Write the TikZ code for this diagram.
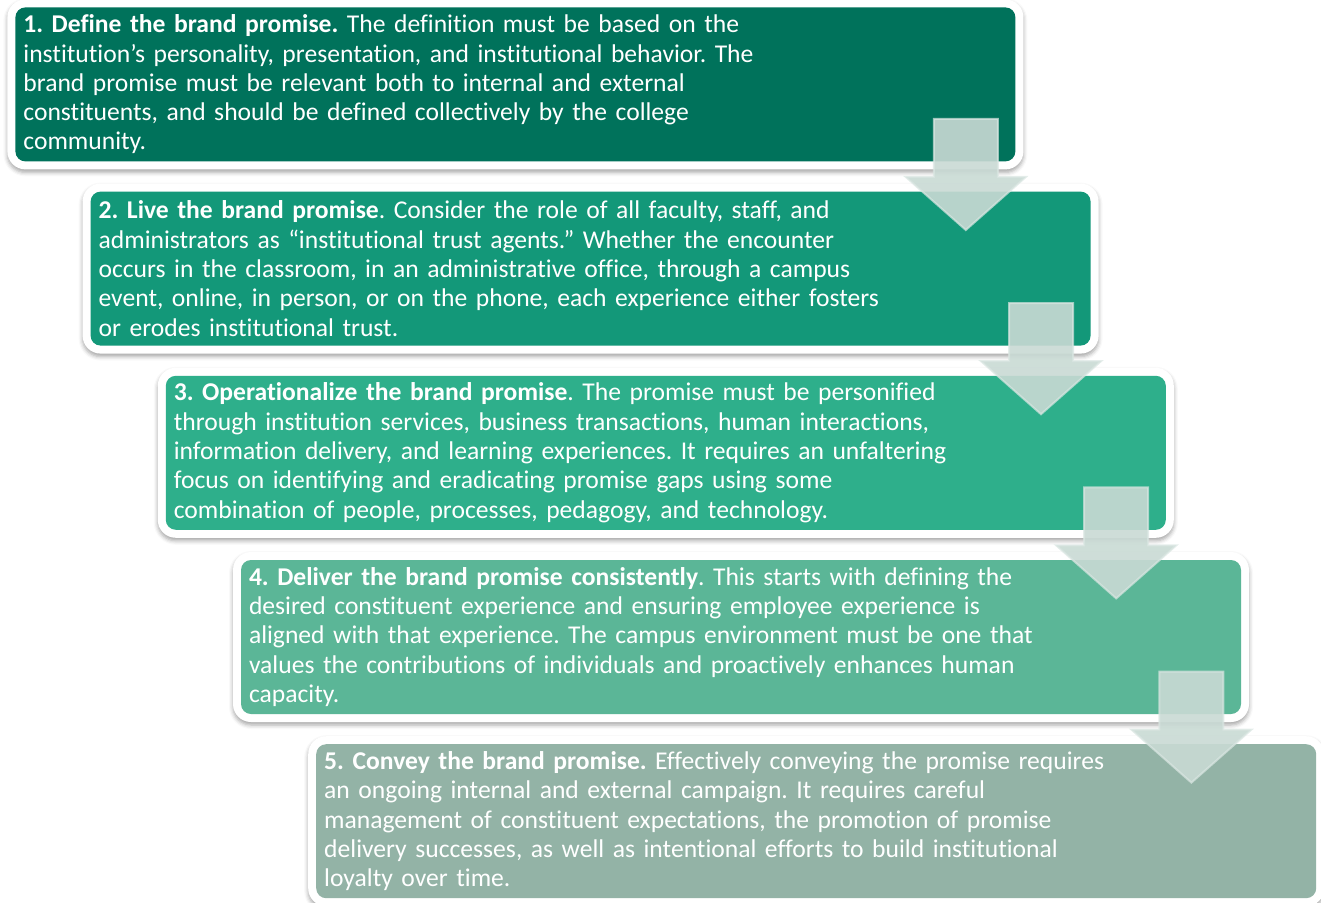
\documentclass[tikz,border=0pt]{standalone}
\usepackage{fontspec}
\setmainfont{Carlito}[Ligatures={NoCommon}]
\frenchspacing
\usetikzlibrary{shadows.blur}
\definecolor{stepone}{RGB}{0,114,91}
\definecolor{steptwo}{RGB}{19,152,121}
\definecolor{stepthree}{RGB}{46,175,139}
\definecolor{stepfour}{RGB}{91,182,151}
\definecolor{stepfive}{RGB}{147,179,166}
\definecolor{arrowfill}{RGB}{201,218,212}
\definecolor{arrowline}{RGB}{218,230,226}
\tikzset{stepbox/.style={anchor=north west, fill=white, rounded corners=9pt,
    text width=492pt, inner xsep=8pt, minimum height=85pt, align=left,
    text=white, font=\fontsize{12.8}{14.65}\selectfont,
    blur shadow={shadow xshift=0pt, shadow yshift=-1.5pt, shadow blur radius=2pt, shadow opacity=35},
    path picture={\fill[#1, rounded corners=5pt]
        ([shift={(4pt,-4pt)}]path picture bounding box.north west) rectangle
        ([shift={(-4pt,4pt)}]path picture bounding box.south east);}},
  downarrow/.style={fill=arrowfill, fill opacity=.9, draw=arrowline, draw opacity=.7, line width=1pt}}

\begin{document}
\begin{tikzpicture}
            \useasboundingbox (0,0) rectangle (660.5pt,-451.5pt);
            \node[stepbox=stepone] (s1) at (3.5pt,0.5pt) {\textbf{1. Define the brand promise.} The definition must be based on the\\ institution’s personality, presentation, and institutional behavior. The\\ brand promise must be relevant both to internal and external\\ constituents, and should be defined collectively by the college\\ community.};
            \node[stepbox=steptwo] (s2) at ([shift={(37.6pt,-92.1pt)}]s1.north west) {\textbf{2. Live the brand promise}. Consider the role of all faculty, staff, and\\ administrators as “institutional trust agents.” Whether the encounter\\ occurs in the classroom, in an administrative office, through a campus\\ event, online, in person, or on the phone, each experience either fosters\\ or erodes institutional trust.};
            \node[stepbox=stepthree] (s3) at ([shift={(37.6pt,-92.1pt)}]s2.north west) {\textbf{3. Operationalize the brand promise}. The promise must be personified\\ through institution services, business transactions, human interactions,\\ information delivery, and learning experiences. It requires an unfaltering\\ focus on identifying and eradicating promise gaps using some\\ combination of people, processes, pedagogy, and technology.};
            \node[stepbox=stepfour] (s4) at ([shift={(37.6pt,-92.1pt)}]s3.north west) {\textbf{4. Deliver the brand promise consistently}. This starts with defining the\\ desired constituent experience and ensuring employee experience is\\ aligned with that experience. The campus environment must be one that\\ values the contributions of individuals and proactively enhances human\\ capacity.};
            \node[stepbox=stepfive] (s5) at ([shift={(37.6pt,-92.1pt)}]s4.north west) {\textbf{5. Convey the brand promise.} Effectively conveying the promise requires\\ an ongoing internal and external campaign. It requires careful\\ management of constituent expectations, the promotion of promise\\ delivery successes, as well as intentional efforts to build institutional\\ loyalty over time.};
            \foreach \i in {1, 2, 3, 4} {
                \draw[downarrow] ([shift={(-45pt,-60pt)}]s\i.north east) -- ++(32pt,0) -- ++(0,-29pt)
                    -- ++(14pt,0) -- ++(-30pt,-26.5pt) -- ++(-30pt,26.5pt) -- ++(14pt,0) -- cycle;
            }
        \end{tikzpicture}
\end{document}
